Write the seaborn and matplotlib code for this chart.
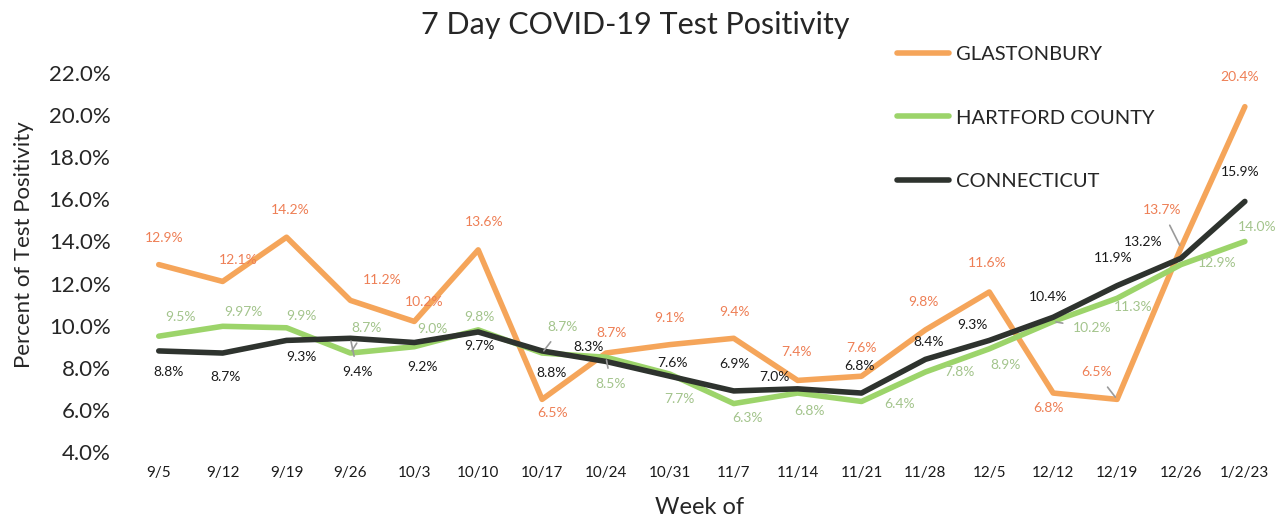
import pandas as pd
import numpy as np
import matplotlib.pyplot as plt
import seaborn as sns

# Datos
semanas = ['9/5', '9/12', '9/19', '9/26', '10/3', '10/10', '10/17', '10/24', '10/31',
           '11/7', '11/14', '11/21', '11/28', '12/5', '12/12', '12/19', '12/26', '1/2/23']
glastonbury = [12.9, 12.1, 14.2, 11.2, 10.2, 13.6, 6.5, 8.7, 9.1, 9.4, 7.4, 7.6, 9.8, 11.6,
               6.8, 6.5, 13.7, 20.4]
hartford = [9.5, 9.97, 9.9, 8.7, 9.0, 9.8, 8.7, 8.5, 7.7, 6.3, 6.8, 6.4, 7.8, 8.9,
            10.2, 11.3, 12.9, 14.0]
connecticut = [8.8, 8.7, 9.3, 9.4, 9.2, 9.7, 8.8, 8.3, 7.6, 6.9, 7.0, 6.8, 8.4, 9.3,
               10.4, 11.9, 13.2, 15.9]
series = ['GLASTONBURY', 'HARTFORD COUNTY', 'CONNECTICUT']
y_ticks = [4, 6, 8, 10, 12, 14, 16, 18, 20, 22]

# Estilo
line_colors = {'GLASTONBURY': '#F5A55A', 'HARTFORD COUNTY': '#9CD46A', 'CONNECTICUT': '#2E332E'}
label_colors = {'GLASTONBURY': '#EE7F55', 'HARTFORD COUNTY': '#A3C48C', 'CONNECTICUT': '#1A1A1A'}

# desplazamiento de etiquetas en pixeles (dx, dy hacia abajo)
offsets = {
    'GLASTONBURY': [(5, -27), (16, -21), (4, -27), (32, -20), (10, -19), (6, -28), (10, 14),
                    (6, -20), (0, -27), (1, -26), (-1, -28), (0, -28), (-2, -28), (-2, -29),
                    (-5, 15), (-21, -27), (-19, -38), (-5, -30)],
    'HARTFORD COUNTY': [(22, -19), (21, -14), (15, -12), (16, -25), (18, -18), (1, -13),
                        (20, -26), (5, 27), (10, 25), (14, 14), (12, 18), (38, 3), (34, 0),
                        (16, 16), (39, 7), (16, 9), (36, -2), (12, -14)],
    'CONNECTICUT': [(10, 21), (3, 24), (15, 17), (7, 34), (8, 24), (1, 14), (9, 22),
                    (-17, -14), (3, -13), (1, -27), (-23, -12), (-2, -27), (3, -17),
                    (-17, -15), (-5, -20), (-4, -28), (-38, -16), (-5, -29)],
}
leaders = {'GLASTONBURY': [15, 16], 'HARTFORD COUNTY': [3, 6, 7, 14], 'CONNECTICUT': [3]}

df = pd.DataFrame({
    'Semana': semanas * 3,
    'Serie': np.repeat(series, len(semanas)),
    'Valor': glastonbury + hartford + connecticut,
})

sns.set_theme(style='white')
plt.rcParams['font.family'] = ['Lato', 'DejaVu Sans']

fig = plt.figure(figsize=(12.84, 5.21), dpi=100)
ax = fig.add_axes([130 / 1284, 69 / 521, 1150 / 1284, 379 / 521])

sns.lineplot(data=df, x='Semana', y='Valor', hue='Serie', hue_order=series,
             palette=line_colors, linewidth=4, sort=False, ax=ax)

# etiquetas de datos
for serie in series:
    valores = df[df['Serie'] == serie]['Valor'].tolist()
    for i, v in enumerate(valores):
        dx, dy = offsets[serie][i]
        txt = f'{v:.2f}%' if serie == 'HARTFORD COUNTY' and i == 1 else f'{v:.1f}%'
        arrow = None
        if i in leaders[serie]:
            arrow = dict(arrowstyle='-', color='#9A9A9A', lw=1.2, shrinkA=5, shrinkB=2)
        ax.annotate(txt, (i, v), xytext=(dx, -dy), textcoords='offset pixels',
                    ha='center', va='center', fontsize=10, color=label_colors[serie],
                    arrowprops=arrow, zorder=5)

ax.set_xlim(-0.45, 17.55)
ax.set_ylim(4, 22)
ax.set_yticks(y_ticks)
ax.set_yticklabels([f'{t:.1f}%' for t in y_ticks], fontsize=16, color='#262626')
ax.tick_params(axis='x', labelsize=11, colors='#1a1a1a', pad=4)
ax.tick_params(axis='y', pad=8)
ax.set_xlabel('')
ax.set_ylabel('')
sns.despine(ax=ax, left=True, bottom=True)

fig.text(0.495, 0.952, '7 Day COVID-19 Test Positivity', ha='center', va='center',
         fontsize=22, color='#262626')
fig.text(0.019, 0.53, 'Percent of Test Positivity', rotation=90, ha='center', va='center',
         fontsize=16, color='#262626')
fig.text(0.545, 0.025, 'Week of', ha='center', va='center', fontsize=17, color='#262626')

handles, labels = ax.get_legend_handles_labels()
ax.legend(handles, labels, loc='upper left', bbox_to_anchor=(897 / 1284, 1 - 46 / 521),
          bbox_transform=fig.transFigure, frameon=False, fontsize=14.5,
          handlelength=2.6, handletextpad=0.35, labelspacing=2.3,
          borderpad=0, borderaxespad=0)

plt.savefig('out.png', dpi=100)
